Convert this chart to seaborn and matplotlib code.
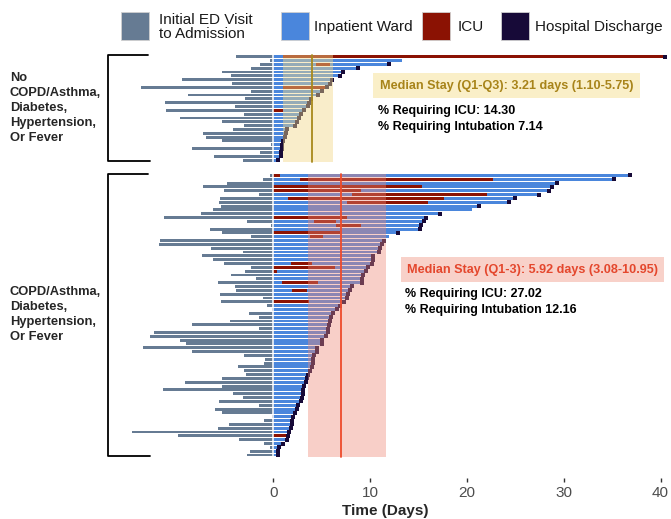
import numpy as np
import pandas as pd
import seaborn as sns
import matplotlib.pyplot as plt
from matplotlib.patches import Rectangle
from matplotlib.transforms import blended_transform_factory

# ---- values (days) ----
# group without COPD/asthma, diabetes, hypertension or fever (28 patients)
low_ed = [3.9, 0.3, 1.4, 2.3, 5.3, 4.4, 9.4, 4.3, 13.7, 2.3, 8.8, 2.9, 11.2, 4.0,
          11.1, 3.0, 9.6, 5.3, 3.0, 4.2, 7.3, 6.9, 5.3, 0.2, 8.4, 1.4, 6.1, 3.1]
low_stay = [40.5, 13.3, 12.0, 8.8, 7.2, 6.9, 6.1, 5.9, 5.5, 5.0, 4.6, 3.9, 3.7, 3.6,
            3.2, 2.9, 2.7, 2.5, 2.2, 1.4, 1.3, 1.2, 1.0, 0.9, 0.9, 0.8, 0.8, 0.45]
low_icu_rows = [0, 2, 8, 14]
low_icu_start = [1.0, 4.4, 1.0, 0.0]
low_icu_end = [40.5, 5.9, 5.5, 1.0]
low_no_discharge = [1]
low_q1, low_q3, low_median = 1.0, 6.2, 4.0

# group with COPD/asthma, diabetes, hypertension or fever (74 patients)
high_ed = [0.3, 1.1, 4.75, 7.3, 5.1, 1.5, 5.5, 5.6, 5.4, 6.2,
           7.5, 11.3, 2.7, 0.2, 6.5, 5.3, 2.3, 11.7, 11.8, 6.4,
           3.1, 7.4, 6.2, 5.1, 2.3, 2.9, 4.4, 1.8, 5.7, 4.0,
           3.9, 5.5, 1.1, 5.4, 0.7, 0.15, 2.5, 1.5, 4.5, 8.4,
           1.5, 12.3, 12.7, 9.6, 9.0, 13.5, 8.4, 3.0, 0.9, 1.0,
           3.6, 3.0, 2.8, 5.3, 9.1, 5.3, 11.4, 4.2, 3.1, 5.6,
           1.45, 6.0, 5.3, 0.15, 1.0, 4.6, 5.7, 14.6, 9.8, 3.55,
           1.0, 0.3, 2.4, 2.7]
high_stay = [36.8, 35.2, 29.3, 28.8, 28.5, 27.4, 25.0, 24.3, 21.2, 20.5,
             17.2, 15.8, 15.6, 15.3, 15.2, 12.9, 12.0, 11.4, 11.2, 11.0,
             10.95, 10.3, 10.3, 10.2, 9.75, 9.6, 9.3, 9.2, 9.2, 8.1,
             7.95, 7.75, 7.65, 7.3, 6.9, 6.55, 6.2, 6.0, 5.85, 5.8,
             5.7, 5.6, 5.45, 5.05, 5.0, 4.55, 4.5, 4.2, 4.1, 4.05,
             3.95, 3.8, 3.6, 3.45, 3.4, 3.15, 3.1, 3.1, 3.0, 2.9,
             2.6, 2.5, 2.25, 2.05, 1.95, 1.9, 1.8, 1.65, 1.55, 1.4,
             1.05, 0.6, 0.45, 0.45]
high_icu_rows = [0, 1, 3, 4, 5, 6, 7, 11, 12, 13, 15, 16, 23, 24, 25, 28, 30, 33, 68]
high_icu_start = [0, 2.75, 0, 0, 8.1, 1.55, 7.6, 0, 4.2, 6.5, 0, 3.8, 1.8, 0, 0, 0.9, 1.9, 0, 0]
high_icu_end = [0.7, 22.7, 15.4, 9.1, 22.1, 17.6, 16.0, 7.6, 6.5, 9.1, 6.9, 5.1, 4.0, 6.4,
                0.4, 4.6, 3.5, 3.7, 1.5]
high_no_discharge = [9, 16]
high_q1, high_q3, high_median = 3.6, 11.6, 7.0

group_labels = ["No\nCOPD/Asthma,\nDiabetes,\nHypertension,\nOr Fever",
                "COPD/Asthma,\nDiabetes,\nHypertension,\nOr Fever"]
low_stats = ["Median Stay (Q1-Q3): 3.21 days (1.10-5.75)",
             "% Requiring ICU: 14.30", "% Requiring Intubation 7.14"]
high_stats = ["Median Stay (Q1-3): 5.92 days (3.08-10.95)",
              "% Requiring ICU: 27.02", "% Requiring Intubation 12.16"]

ED_C = "#667b93"
WARD_C = "#4a86dc"
ICU_C = "#8b1203"
DIS_C = "#170a38"
GAP = 3  # empty rows between the two groups


def build(ed, stay, icu_rows, icu_start, icu_end, no_dis, offset):
    pts = pd.DataFrame({"ed": ed, "stay": stay})
    pts["pos"] = offset + np.arange(len(pts))
    pts["discharged"] = ~pts.index.isin(no_dis)
    icu = pd.DataFrame({"row": icu_rows, "start": icu_start, "end": icu_end})
    icu["pos"] = offset + icu["row"]
    return pts, icu


low, low_icu = build(low_ed, low_stay, low_icu_rows, low_icu_start, low_icu_end,
                     low_no_discharge, 0)
high, high_icu = build(high_ed, high_stay, high_icu_rows, high_icu_start, high_icu_end,
                       high_no_discharge, len(low_ed) + GAP)
pts = pd.concat([low, high], ignore_index=True)
icu = pd.concat([low_icu, high_icu], ignore_index=True)

sns.set_style("white")
plt.rcParams["font.family"] = ["Liberation Sans", "DejaVu Sans"]

fig = plt.figure(figsize=(6.71, 5.19), dpi=100)
ax = fig.add_axes([100 / 671, 1 - 478 / 519, 571 / 671, 430 / 519])

h = 0.76
ax.barh(pts["pos"], pts["ed"], left=-pts["ed"], height=h, color=ED_C, lw=0, zorder=2)
ax.barh(pts["pos"], pts["stay"], left=0, height=h, color=WARD_C, lw=0, zorder=2)
ax.barh(icu["pos"], icu["end"] - icu["start"], left=icu["start"], height=h,
        color=ICU_C, lw=0, zorder=3)
sns.scatterplot(data=pts[pts["discharged"]], x="stay", y="pos", marker="s", s=7,
                color=DIS_C, linewidth=0, ax=ax, zorder=4, legend=False)
ax.axvline(0, color="white", lw=1.1, zorder=5)

# Q1-Q3 shading and median lines
for grp, q1, q3, med, fc, a, lc in [
        (low, low_q1, low_q3, low_median, "#f2d98a", 0.45, "#a8891c"),
        (high, high_q1, high_q3, high_median, "#ee8877", 0.4, "#ee4b2b")]:
    y0, y1 = grp["pos"].min() - 0.45, grp["pos"].max() + 0.45
    ax.fill_betweenx([y0, y1], q1, q3, color=fc, alpha=a, lw=0, zorder=6)
    ax.plot([med, med], [y0, y1], color=lc, lw=1.3, zorder=7)

# stats text
for grp, lines, tc, bc, x in [(low, low_stats, "#a8841a", "#faefc8", 11.0),
                              (high, high_stats, "#e4472d", "#f8d1c9", 13.8)]:
    y = grp["pos"].iloc[0]
    yy = [y + 7.6, y + 14.2, y + 18.4] if grp is low else [y + 24.6, y + 31.0, y + 35.1]
    ax.text(x, yy[0], lines[0], fontsize=9.1, weight="bold", color=tc, va="center",
            bbox=dict(boxstyle="square,pad=0.5", fc=bc, ec="none"), zorder=8)
    ax.text(x - 0.2, yy[1], lines[1], fontsize=9, weight="bold", color="black", va="center")
    ax.text(x - 0.2, yy[2], lines[2], fontsize=9, weight="bold", color="black", va="center")

# brackets and group labels
trans = blended_transform_factory(ax.transAxes, ax.transData)
for grp, label in zip([low, high], group_labels):
    y0, y1 = grp["pos"].min() - 0.45, grp["pos"].max() + 0.2
    ax.plot([0.084, 0.014, 0.014, 0.088], [y0, y0, y1, y1], color="black", lw=1.3,
            transform=trans, clip_on=False)
    ax.text(-0.158, (y0 + y1) / 2, label, transform=trans, fontsize=9.3, weight="bold",
            ha="left", va="center", linespacing=1.35)

ax.set_xlim(-17.9, 41.08)
ax.set_ylim(110.0, -2.27)
ax.set_yticks([])
ax.set_ylabel("")
ax.set_xticks([0, 10, 20, 30, 40])
ax.tick_params(axis="x", length=3, width=1, color="#333333", labelsize=11,
               labelcolor="#4d4d4d", pad=3, bottom=True)
ax.set_xlabel("Time (Days)", fontsize=11, weight="bold", labelpad=3)
sns.despine(ax=ax, left=True, bottom=True)

# legend along the top
legend_items = [("Initial ED Visit\nto Admission", ED_C, 121, 159),
                ("Inpatient Ward", WARD_C, 281, 314),
                ("ICU", ICU_C, 422, 458),
                ("Hospital Discharge", DIS_C, 501, 535)]
for label, color, sx, tx in legend_items:
    fig.patches.append(Rectangle((sx / 671, 1 - 40 / 519), 28 / 671, 27.7 / 519,
                                 transform=fig.transFigure, fc=color, ec="#d0d0d0", lw=0.6))
    fig.text(tx / 671, 1 - 27 / 519, label, fontsize=11, va="center", ha="left",
             linespacing=1.05, color="#1a1a1a")

fig.savefig("out.png", dpi=100)
